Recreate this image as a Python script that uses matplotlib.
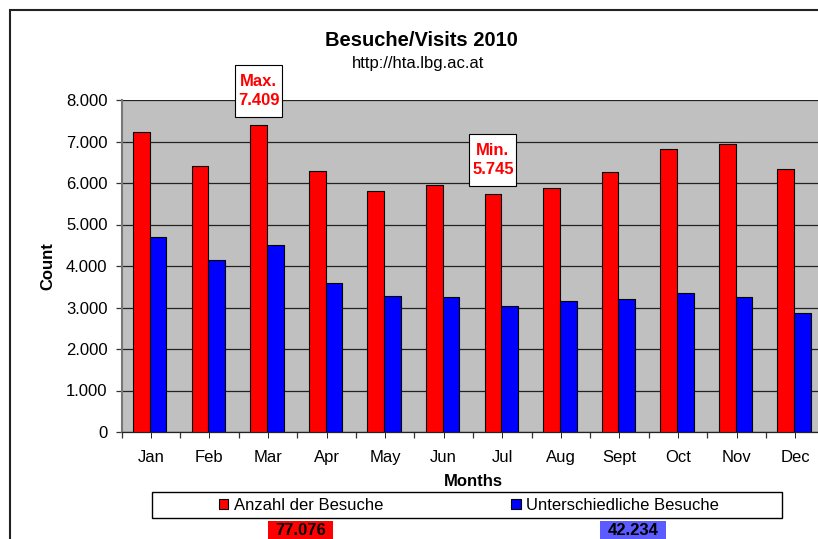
import matplotlib.pyplot as plt
import numpy as np
from matplotlib.patches import Rectangle
from matplotlib.ticker import FuncFormatter, FixedLocator

plt.rcParams["font.family"] = ["Liberation Sans", "DejaVu Sans"]

months = ["Jan", "Feb", "Mar", "Apr", "May", "Jun", "Jul", "Aug", "Sept", "Oct", "Nov", "Dec"]
besuche = [7240, 6408, 7409, 6280, 5815, 5943, 5745, 5880, 6255, 6816, 6936, 6343]
unterschiedliche = [4700, 4133, 4513, 3601, 3287, 3253, 3036, 3165, 3198, 3358, 3253, 2873]
series_names = ["Anzahl der Besuche", "Unterschiedliche Besuche"]
totals = [77076, 42234]

W, H = 818, 539
fig = plt.figure(figsize=(W / 100, H / 100), dpi=100)


def fx(px):
    return px / W


def fy(py):
    return 1 - py / H


# outer chart border (cut off on the right and bottom)
fig.add_artist(Rectangle((fx(10), fy(560)), fx(900), fy(10) - fy(560),
                         transform=fig.transFigure, fill=False, edgecolor="#222222", linewidth=1.5))

ax = fig.add_axes([fx(121.5), fy(432), fx(703), fy(100) - fy(432)])
ax.set_facecolor("#C0C0C0")

x = np.arange(len(months))
w = 0.285
bars_r = ax.bar(x - 0.16, besuche, width=w, color="#FF0000", edgecolor="black", linewidth=0.8,
                label=series_names[0], zorder=3)
bars_b = ax.bar(x + 0.125, unterschiedliche, width=w, color="#0000FF", edgecolor="black", linewidth=0.8,
                label=series_names[1], zorder=3)

ax.set_xlim(-0.5, len(months) - 0.5)
ax.set_ylim(0, 8000)
ax.set_yticks(np.arange(0, 8001, 1000))
ax.yaxis.set_major_formatter(FuncFormatter(lambda v, p: f"{v:,.0f}".replace(",", ".")))
ax.grid(axis="y", color="#222222", linewidth=0.9, zorder=1)

ax.xaxis.set_major_locator(FixedLocator(np.arange(-0.5, len(months), 1.0)))
ax.xaxis.set_minor_locator(FixedLocator(x))
ax.set_xticklabels([])
ax.set_xticklabels(months, minor=True)
ax.tick_params(axis="x", which="major", length=4, width=0.9, color="#333333", direction="out")
ax.tick_params(axis="x", which="minor", length=4, pad=17.5, labelsize=12)
for lab in ax.get_xticklabels(minor=True):
    lab.set_verticalalignment("baseline")
ax.tick_params(axis="y", length=4, width=0.9, color="#333333", pad=6, labelsize=12)

for side in ["top", "right"]:
    ax.spines[side].set_visible(False)
ax.spines["left"].set_color("#777777")
ax.spines["left"].set_linewidth(1.5)
ax.spines["bottom"].set_color("#222222")
ax.spines["bottom"].set_linewidth(0.9)

ax.set_xlabel("Months", fontsize=12, fontweight="bold", va="center")
ax.xaxis.set_label_coords(0.5, (432 - 481) / 332)
ax.set_ylabel("Count", fontsize=12, fontweight="bold", va="center")
ax.yaxis.set_label_coords((47.5 - 121.5) / 703, 0.5)

# max / min annotations
imax = int(np.argmax(besuche))
imin = int(np.argmin(besuche))
box = dict(boxstyle="square,pad=0.16", mutation_aspect=3.4, facecolor="white", edgecolor="black", linewidth=0.8)
for i, lab in [(imax, "Max."), (imin, "Min.")]:
    val = f"{besuche[i]:,}".replace(",", ".")
    ax.annotate(f"{lab}\n{val}", xy=(x[i] - 0.16, besuche[i]), xytext=(0, 24), textcoords="offset points",
                ha="center", va="center", color="#FF0000", fontsize=12, fontweight="bold",
                linespacing=1.3, bbox=box, annotation_clip=False, zorder=5)

# titles
fig.text(fx(421), fy(46), "Besuche/Visits 2010", ha="center", va="baseline", fontsize=14.5, fontweight="bold")
fig.text(fx(418), fy(68), "http://hta.lbg.ac.at", ha="center", va="baseline", fontsize=12)

# legend
fig.add_artist(Rectangle((fx(152), fy(518)), fx(630), fy(492) - fy(518),
                         transform=fig.transFigure, facecolor="white", edgecolor="black", linewidth=1.0))
fig.legend(handles=[bars_r, bars_b], loc="center", bbox_to_anchor=(fx(469), fy(505)), ncol=2,
           frameon=False, fontsize=12, handlelength=0.55, handleheight=0.55, handletextpad=0.35,
           columnspacing=7.7, borderpad=0, borderaxespad=0)

# totals below the legend
total_colors = ["#FF0000", "#5B5BFF"]
total_boxes = [(268, 333), (600, 666)]
for t, c, (x0, x1) in zip(totals, total_colors, total_boxes):
    fig.add_artist(Rectangle((fx(x0), fy(560)), fx(x1 - x0), fy(521) - fy(560),
                             transform=fig.transFigure, facecolor=c, edgecolor="none"))
    fig.text(fx((x0 + x1) / 2), fy(535), f"{t:,}".replace(",", "."), ha="center", va="baseline",
             fontsize=12, fontweight="bold", color="black")

fig.savefig("out.png", dpi=100)
